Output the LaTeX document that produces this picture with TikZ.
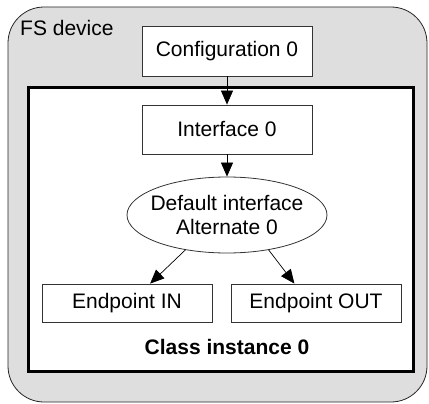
\documentclass[tikz,border=0pt]{standalone}
\usepackage{fontspec}
\setmainfont{Liberation Sans}
\usetikzlibrary{shapes.geometric,arrows.meta}

\begin{document}
\begin{tikzpicture}[x=1pt,y=-1pt,
 txt/.style={font=\fontsize{21}{24.5}\selectfont},
 box/.style={txt, draw=black!80, fill=white, line width=0.8pt, minimum width=170pt, inner sep=0pt},
 arr/.style={-{Triangle[length=14pt,width=12pt]}, line width=0.7pt}]
\useasboundingbox (0,0) rectangle (429,404);
\draw[rounded corners=36pt, fill=black!13, draw=black!85, line width=0.8pt] (8,7) rectangle (427,402);
\node[txt, anchor=base west, inner sep=0pt] (fs) at (20,36) {FS device};
\draw[line width=3pt, fill=white] (28,88) rectangle (413,371);
\node[box, minimum height=50pt] (conf) at (227,51) {Configuration 0};
\node[box, minimum height=49pt] (iface) at (227,129.5) {Interface 0};
\node[box, ellipse, inner xsep=-14pt, minimum width=200pt, minimum height=76pt, align=center] (alt) at (227,215) {Default interface\\Alternate 0};
\node[box, minimum height=38pt] (epin) at (127,303) {Endpoint IN};
\node[box, minimum height=38pt] (epout) at (316,303) {Endpoint OUT};
\node[txt, font=\fontsize{21}{24.5}\selectfont\bfseries] (cls) at (227,347) {Class instance 0};
\draw[arr] (conf) -- (iface);
\draw[arr] (iface) -- (alt);
\draw[arr] (alt.220) -- (epin.40);
\draw[arr] (alt.320) -- (epout.138);
\end{tikzpicture}
\end{document}
